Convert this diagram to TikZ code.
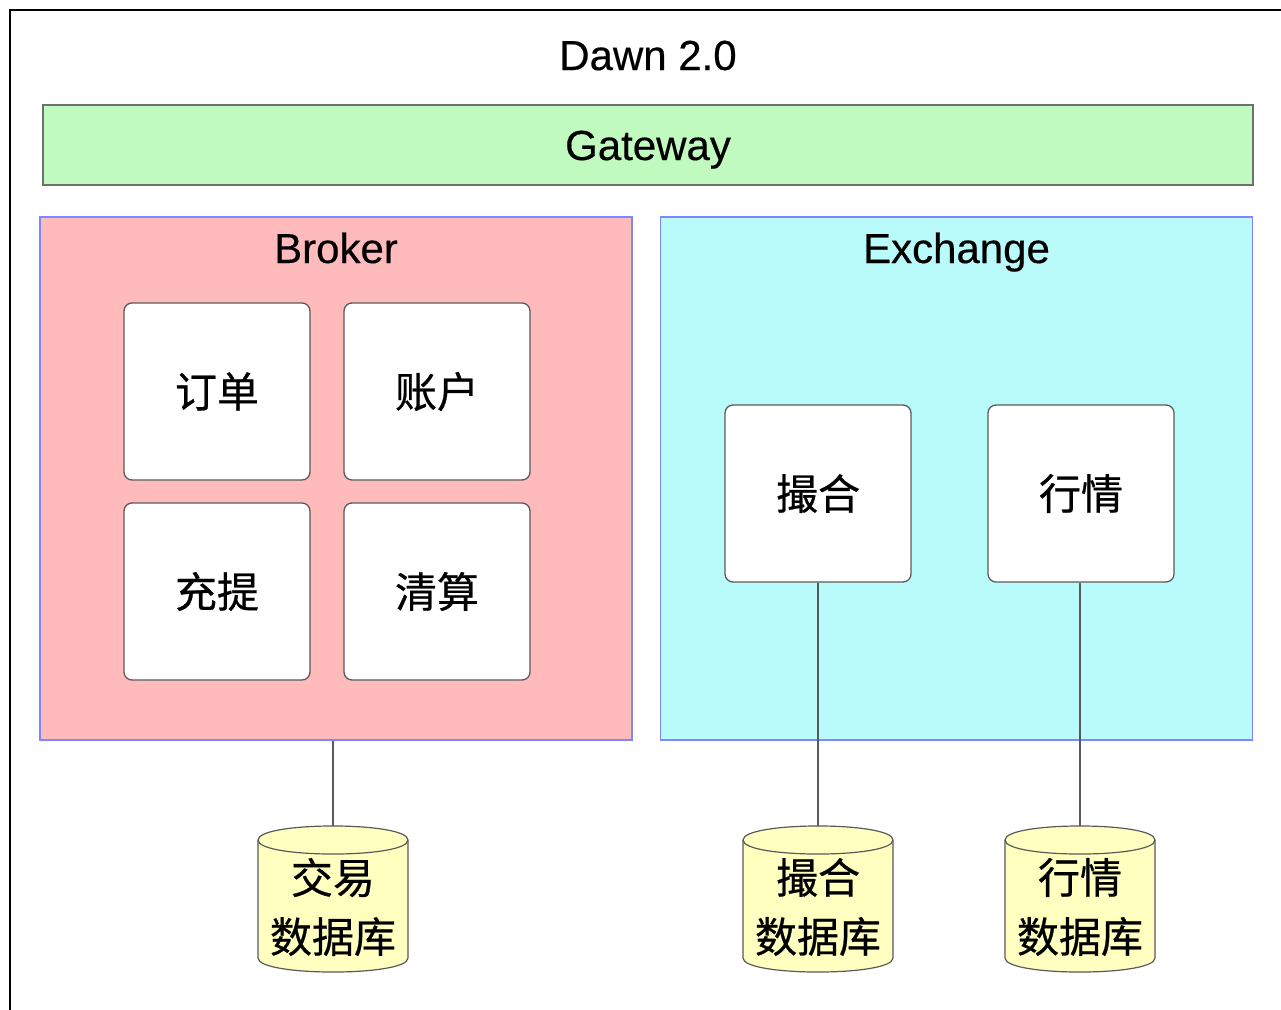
\documentclass[tikz,border=0pt]{standalone}
\usepackage{fontspec}
\setmainfont{Liberation Sans}[FakeBold=0.4]
\newfontfamily\cjk{Noto Sans CJK SC}[FakeBold=0.6]
\definecolor{gwfill}{HTML}{C1FABE}
\definecolor{gwline}{HTML}{707070}
\definecolor{brfill}{HTML}{FFBBBB}
\definecolor{exfill}{HTML}{B9FBFA}
\definecolor{blueline}{HTML}{7F86FF}
\definecolor{dbfill}{HTML}{FFFFC0}
\definecolor{boxline}{HTML}{5A5A5A}
\newcommand{\dbcyl}[3]{%
  % #1 centre x, #2 name, #3 text
  \path[dbstyle] (#1-75,840) -- (#1-75,958) .. controls (#1-75,976.7) and (#1+75,976.7) .. (#1+75,958)
     -- (#1+75,840) .. controls (#1+75,821.3) and (#1-75,821.3) .. (#1-75,840) -- cycle;
  \path[dbstyle] (#1-75,840) .. controls (#1-75,858.7) and (#1+75,858.7) .. (#1+75,840);
  \coordinate (#2top) at (#1,826);
  \node[cjktext, align=center, text width=150pt] (#2) at (#1,907) {#3};
}
\begin{document}
\begin{tikzpicture}[x=1pt,y=-1pt,
  frame/.style={draw=black, line width=2pt},
  gwbox/.style={draw=gwline, fill=gwfill, line width=1.5pt, minimum width=1210pt, minimum height=80pt, inner sep=0pt},
  group/.style={draw=blueline, fill=#1, line width=1.2pt, minimum width=592pt, minimum height=523pt, inner sep=0pt},
  title/.style={font=\fontsize{42}{48}\selectfont, inner sep=0pt, anchor=base},
  cjktext/.style={font=\cjk\fontsize{42}{59}\selectfont, inner sep=0pt},
  module/.style={draw=boxline, fill=white, line width=1.3pt, rounded corners=8pt, minimum width=186pt, minimum height=177pt, inner sep=0pt, font=\cjk\fontsize{42}{48}\selectfont},
  dbstyle/.style={draw=boxline, fill=dbfill, line width=1.2pt},
  conn/.style={draw=boxline, line width=1.3pt}]
\useasboundingbox (0,0) rectangle (1281,1009);
\fill[white] (0,0) rectangle (1281,1009);
\draw[frame] (10,1012) -- (10,9.5) -- (1284,9.5);

\node[title] (dawn) at (648,70) {Dawn 2.0};
\node[gwbox] (gateway) at (648,145) {};
\node[title] (gatewaylabel) at (648,160) {Gateway};

\node[group=brfill] (broker) at (336,478.5) {};
\node[title] (brokerlabel) at (336,263) {Broker};
\node[group=exfill] (exchange) at (956.5,478.5) {};
\node[title] (exchangelabel) at (956.5,263) {Exchange};

\node[module] (order) at (217,391.5) {订单};
\node[module] (account) at (437,391.5) {账户};
\node[module] (deposit) at (217,591.5) {充提};
\node[module] (clearing) at (437,591.5) {清算};
\node[module] (match) at (818,493.5) {撮合};
\node[module] (quote) at (1081,493.5) {行情};

\dbcyl{333}{dbtrade}{交易\\数据库}
\dbcyl{818}{dbmatch}{撮合\\数据库}
\dbcyl{1080}{dbquote}{行情\\数据库}

\draw[conn] (dbtradetop |- broker.south) -- (dbtradetop);
\draw[conn] (match.south) -- (dbmatchtop);
\draw[conn] (dbquotetop |- quote.south) -- (dbquotetop);
\end{tikzpicture}
\end{document}
